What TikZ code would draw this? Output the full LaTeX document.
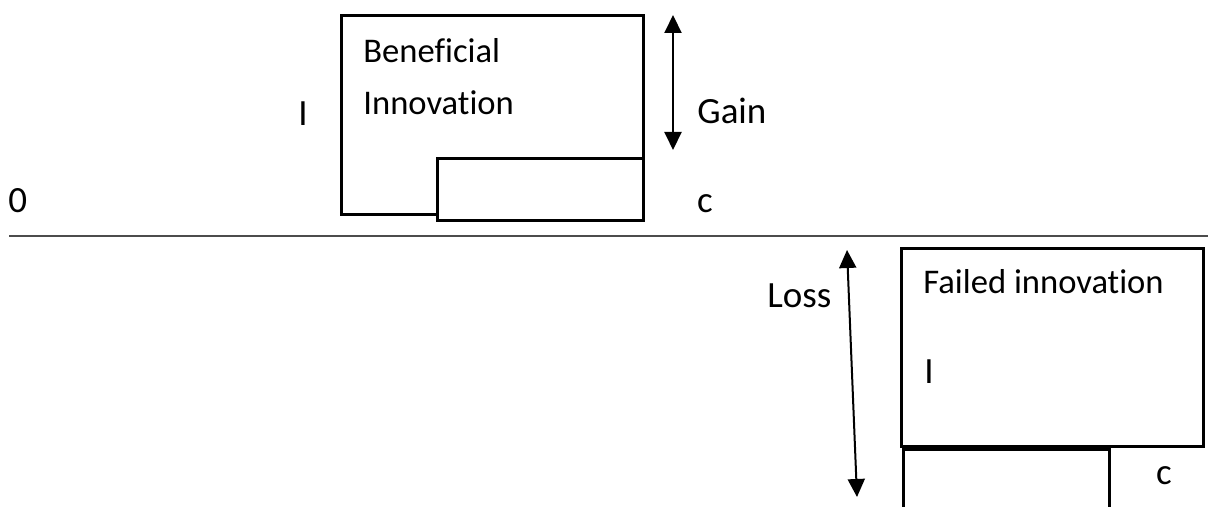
\documentclass[tikz,border=0pt]{standalone}
\usepackage{fontspec}
\setmainfont{Carlito}[Ligatures=NoCommon]
\usetikzlibrary{arrows.meta}

\begin{document}
\begin{tikzpicture}[
  x=0.5pt, y=-0.5pt,
  box/.style={draw, line width=1.4pt, fill=white, inner sep=0pt, anchor=north west},
  txt/.style={font=\fontsize{17.3}{20}\selectfont, inner sep=0pt, anchor=base west},
  sym/.style={font=\fontsize{18.5}{22}\selectfont, inner sep=0pt, anchor=base},
  dim/.style={{Triangle[length=9pt,width=8.5pt]}-{Triangle[length=9pt,width=8.5pt]}, line width=1pt},
  axis/.style={draw=black!70, line width=1pt}
]
\useasboundingbox (0,0) rectangle (1208,507);
\clip (0,0) rectangle (1208,507);
\coordinate (axis-left) at (9,236);
\coordinate (axis-right) at (1208,236);
\draw[axis] (axis-left) -- (axis-right);
\node[sym, anchor=base west] (lbl-zero) at (8,213) {0};
% beneficial innovation
\node[box, minimum width=151pt, minimum height=99.5pt] (box-benefit) at (340,14) {};
\node[box, minimum width=103pt, minimum height=31pt] (box-benefit-c) at (436,157) {};
\node[txt] (txt-benefit-1) at (363,63) {Beneficial};
\node[txt] (txt-benefit-2) at (363,115) {Innovation};
\node[sym] (lbl-benefit-i) at (303,126) {I};
\node[sym] (lbl-benefit-c) at (705,213) {c};
\coordinate (gain-top) at (673,15);
\coordinate (gain-bot) at (673,150);
\draw[dim] (gain-top) -- (gain-bot);
\node[sym, anchor=base west] (lbl-gain) at (697,124) {Gain};
% failed innovation
\node[box, minimum width=151pt, minimum height=99pt] (box-failed) at (900,247) {};
\node[box, minimum width=103pt, minimum height=40pt] (box-failed-c) at (902,448) {};
\node[txt] (txt-failed) at (923,293) {Failed innovation};
\node[sym] (lbl-failed-i) at (929,383) {I};
\node[sym] (lbl-failed-c) at (1164,484) {c};
\coordinate (loss-top) at (847,250);
\coordinate (loss-bot) at (857,497);
\draw[dim] (loss-top) -- (loss-bot);
\node[sym, anchor=base west] (lbl-loss) at (767,307) {Loss};
\end{tikzpicture}
\end{document}
